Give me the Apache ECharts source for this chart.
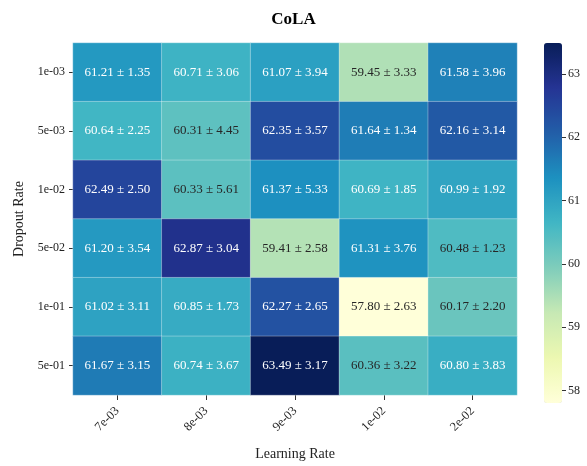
<!DOCTYPE html>
<html lang="en">
<head>
    <meta charset="UTF-8">
    <title>CoLA</title>
    <script src="https://cdn.jsdelivr.net/npm/echarts@6/dist/echarts.min.js"></script>
</head>
<style>
    html, body { margin: 0; padding: 0; background: #ffffff; }
    #chart { width: 587px; height: 466px; }
</style>
<body>
<div id="chart"></div>
<script type="text/javascript">
    // learning rates (columns) and dropout rates (rows)
    const learningRates = ['7e-03', '8e-03', '9e-03', '1e-02', '2e-02'];
    const dropoutRates = ['1e-03', '5e-03', '1e-02', '5e-02', '1e-01', '5e-01'];

    // mean scores, one row per dropout rate
    const means = [
        [61.21, 60.71, 61.07, 59.45, 61.58],
        [60.64, 60.31, 62.35, 61.64, 62.16],
        [62.49, 60.33, 61.37, 60.69, 60.99],
        [61.20, 62.87, 59.41, 61.31, 60.48],
        [61.02, 60.85, 62.27, 57.80, 60.17],
        [61.67, 60.74, 63.49, 60.36, 60.80]
    ];
    // standard deviations
    const stds = [
        [1.35, 3.06, 3.94, 3.33, 3.96],
        [2.25, 4.45, 3.57, 1.34, 3.14],
        [2.50, 5.61, 5.33, 1.85, 1.92],
        [3.54, 3.04, 2.58, 3.76, 1.23],
        [3.11, 1.73, 2.65, 2.63, 2.20],
        [3.15, 3.67, 3.17, 3.22, 3.83]
    ];
    const colorbarTicks = [58, 59, 60, 61, 62, 63];

    const font = 'Liberation Serif';
    const ylgnbu = ['#ffffd9', '#edf8b1', '#c7e9b4', '#7fcdbb', '#41b6c4', '#1d91c0', '#225ea8', '#253494', '#081d58'];

    let vmin = Infinity, vmax = -Infinity;
    means.forEach(r => r.forEach(v => { vmin = Math.min(vmin, v); vmax = Math.max(vmax, v); }));

    let cells = [];
    means.forEach((row, i) => {
        row.forEach((v, j) => {
            cells.push({
                value: [j, i, v, stds[i][j]],
                label: { color: v < 60.55 ? '#262626' : '#ffffff' }
            });
        });
    });

    let myChart = echarts.init(document.getElementById('chart'));
    myChart.setOption({
        animation: false,
        textStyle: { fontFamily: font },
        title: {
            text: 'CoLA',
            left: 'center',
            top: 6,
            textStyle: { fontFamily: font, fontSize: 17, fontWeight: 'bold', color: '#000' }
        },
        grid: [
            { left: 73, top: 43, width: 444, height: 360 },
            { left: 544, top: 43, width: 18, height: 360 }
        ],
        xAxis: [{
            type: 'category',
            data: learningRates,
            gridIndex: 0,
            position: 'bottom',
            name: 'Learning Rate',
            nameLocation: 'middle',
            nameGap: 52,
            nameTextStyle: { fontFamily: font, fontSize: 14, color: '#222' },
            axisLine: { show: false },
            axisTick: { show: true, interval: 0, alignWithLabel: true, length: 5, lineStyle: { color: '#333', width: 1 } },
            axisLabel: { rotate: 45, interval: 0, fontSize: 12.5, color: '#222', margin: 14 },
            splitLine: { show: false }
        }, {
            type: 'category',
            data: ['c'],
            gridIndex: 1,
            show: false
        }],
        yAxis: [{
            type: 'category',
            data: dropoutRates,
            gridIndex: 0,
            inverse: true,
            name: 'Dropout Rate',
            nameLocation: 'middle',
            nameGap: 45,
            nameRotate: 90,
            nameTextStyle: { fontFamily: font, fontSize: 14, color: '#222' },
            axisLine: { show: false },
            axisTick: { show: true, alignWithLabel: true, length: 4, lineStyle: { color: '#333' } },
            axisLabel: { fontSize: 12, color: '#222', margin: 8 },
            splitLine: { show: false }
        }, {
            type: 'value',
            gridIndex: 1,
            position: 'right',
            min: vmin,
            max: vmax,
            axisLine: { show: false },
            axisTick: { show: true, length: 4, customValues: colorbarTicks, lineStyle: { color: '#333' } },
            axisLabel: { fontSize: 12, color: '#222', margin: 6, customValues: colorbarTicks },
            splitLine: { show: false }
        }],
        visualMap: {
            type: 'continuous',
            min: vmin,
            max: vmax,
            dimension: 2,
            seriesIndex: 0,
            left: 544,
            top: 43,
            padding: 0,
            itemWidth: 18,
            itemHeight: 360,
            calculable: false,
            hoverLink: false,
            text: null,
            inRange: { color: ylgnbu }
        },
        series: [{
            type: 'heatmap',
            xAxisIndex: 0,
            yAxisIndex: 0,
            data: cells,
            itemStyle: { borderColor: 'rgba(255,255,255,0.55)', borderWidth: 0.6 },
            label: {
                show: true,
                fontFamily: font,
                fontSize: 13,
                formatter: p => p.value[2].toFixed(2) + ' ± ' + p.value[3].toFixed(2)
            }
        }, {
            type: 'scatter',
            xAxisIndex: 1,
            yAxisIndex: 1,
            data: []
        }]
    });
</script>
</body>
</html>
